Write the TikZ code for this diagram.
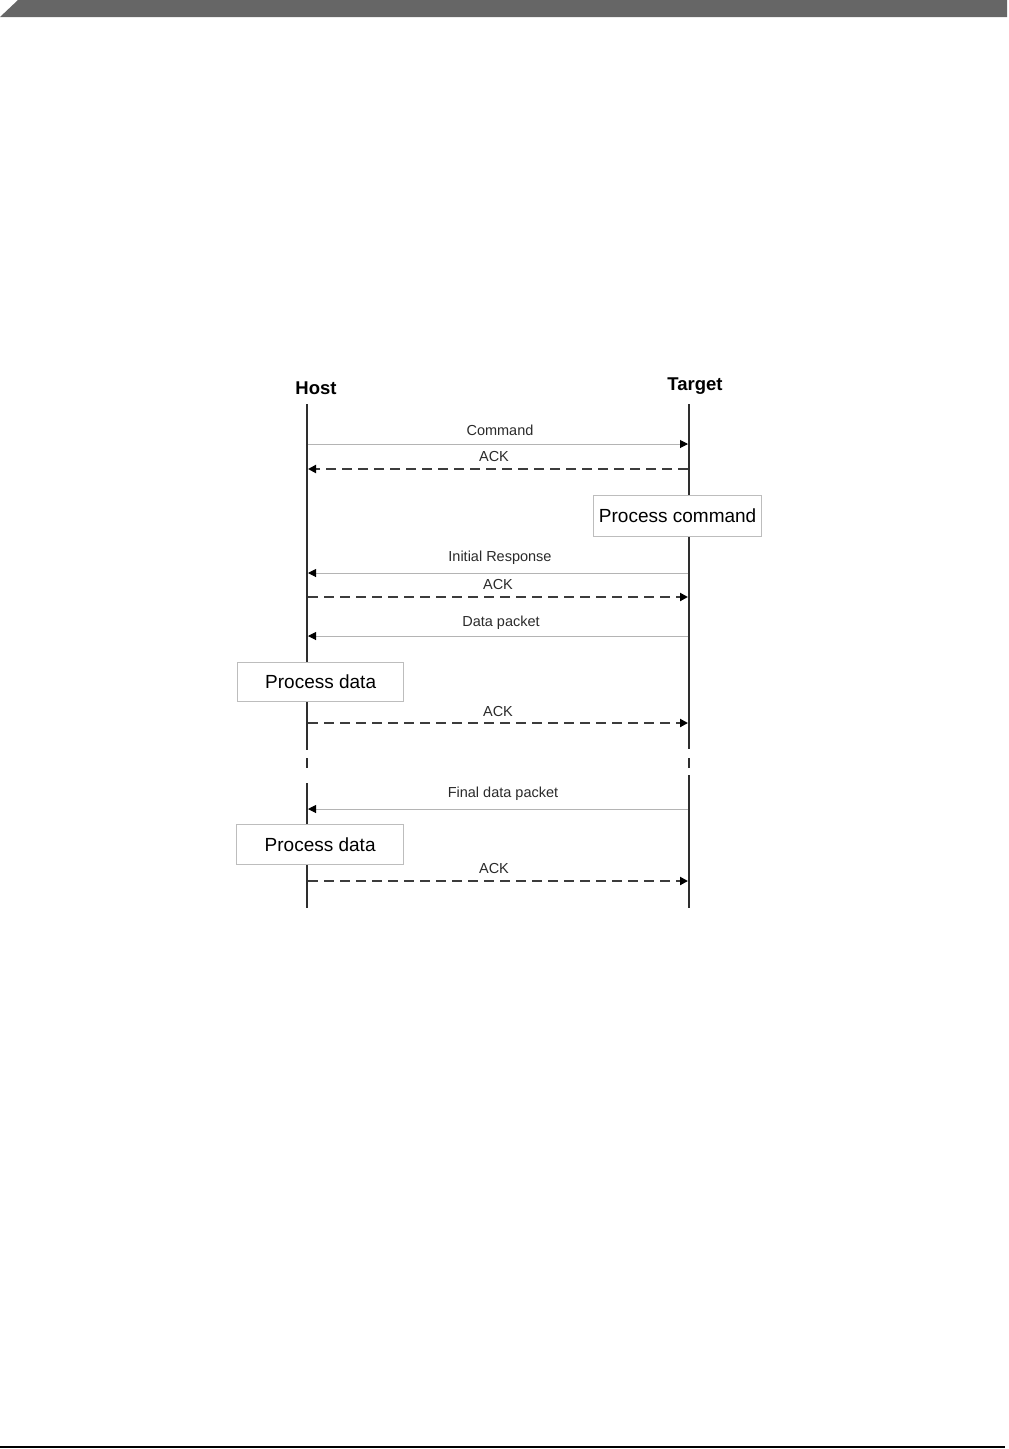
\documentclass[tikz,border=0pt]{standalone}
\usepackage{fontspec}
\setmainfont{Liberation Sans}
\usetikzlibrary{arrows.meta}
\definecolor{barc}{HTML}{666666}
\definecolor{lifec}{HTML}{2E2E2E}
\definecolor{msgc}{HTML}{B4B4B4}
\definecolor{dashc}{HTML}{3C3C3C}
\definecolor{boxc}{HTML}{BDBDBD}
\definecolor{txtc}{HTML}{2A2A2A}
\tikzset{
  lifeline/.style={draw=lifec,line width=2pt},
  msgline/.style={draw=msgc,line width=1pt,-{Triangle[length=8pt,width=8pt,color=black]}},
  ackline/.style={draw=dashc,line width=2pt,dash pattern=on 10pt off 6pt,-{Triangle[length=8pt,width=8pt,color=black]}},
  msglabel/.style={font=\fontsize{14.5}{16}\selectfont,text=txtc,inner sep=0pt},
  actor/.style={font=\fontsize{18.5}{20}\selectfont\bfseries,text=black,inner sep=0pt},
  procbox/.style={draw=boxc,line width=1.3pt,fill=white,font=\fontsize{19}{21}\selectfont,text=black,inner sep=0pt,anchor=north west},
}
\begin{document}
\begin{tikzpicture}[x=1pt,y=-1pt]
\useasboundingbox (0,0) rectangle (1009,1449);
% header bar and footer rule
\fill[barc] (0,17) -- (18,0) -- (1007,0) -- (1007,17) -- cycle;
\draw[black,line width=1.5pt] (0,1447) -- (1005,1447);
% actors
\node[actor] (host) at (316,388) {Host};
\node[actor] (target) at (695,386) {Target};
% lifelines
\coordinate (hTop) at (307,404);
\coordinate (hBrkA) at (307,750);
\coordinate (hDashA) at (307,758);
\coordinate (hDashB) at (307,768);
\coordinate (hBrkB) at (307,783);
\coordinate (hBot) at (307,908);
\coordinate (tTop) at (689,404);
\coordinate (tBrkA) at (689,749);
\coordinate (tDashA) at (689,758);
\coordinate (tDashB) at (689,768);
\coordinate (tBrkB) at (689,775);
\coordinate (tBot) at (689,908);
\draw[lifeline] (hTop) -- (hBrkA);
\draw[lifeline] (hDashA) -- (hDashB);
\draw[lifeline] (hBrkB) -- (hBot);
\draw[lifeline] (tTop) -- (tBrkA);
\draw[lifeline] (tDashA) -- (tDashB);
\draw[lifeline] (tBrkB) -- (tBot);
% message anchor points
\foreach \n/\y in {1/444,2/469,3/573,4/597,5/636,6/723,7/809,8/881}{
  \coordinate (h\n) at (308,\y);
  \coordinate (t\n) at (688,\y);
}
% messages
\draw[msgline] (h1) -- (t1);
\node[msglabel] (l1) at (500,430) {Command};
\draw[ackline] (t2) -- (h2);
\node[msglabel] (l2) at (494,457) {ACK};
\node[procbox,minimum width=168pt,minimum height=41pt] (pc) at (593,495) {Process command};
\draw[msgline] (t3) -- (h3);
\node[msglabel] (l3) at (500,558) {Initial Response};
\draw[ackline] (h4) -- (t4);
\node[msglabel] (l4) at (498,584) {ACK};
\draw[msgline] (t5) -- (h5);
\node[msglabel] (l5) at (501,623) {Data packet};
\node[procbox,minimum width=166pt,minimum height=39pt] (pd1) at (237,662) {Process data};
\draw[ackline] (h6) -- (t6);
\node[msglabel] (l6) at (498,711) {ACK};
\draw[msgline] (t7) -- (h7);
\node[msglabel] (l7) at (503,794) {Final data packet};
\node[procbox,minimum width=167pt,minimum height=40pt] (pd2) at (236,824) {Process data};
\draw[ackline] (h8) -- (t8);
\node[msglabel] (l8) at (494,868) {ACK};
\end{tikzpicture}
\end{document}
